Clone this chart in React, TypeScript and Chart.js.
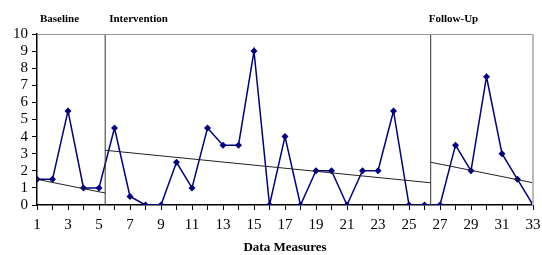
import React, { useEffect, useRef } from "react";
import { Chart, registerables } from "chart.js";

Chart.register(...registerables);

const sessions = Array.from({ length: 33 }, (_, i) => i + 1);
const scores = [1.5, 1.5, 5.5, 1, 1, 4.5, 0.5, 0, 0, 2.5, 1, 4.5, 3.5, 3.5, 9, 0, 4, 0, 2, 2, 0, 2, 2, 5.5, 0, 0, 0, 3.5, 2, 7.5, 3, 1.5, 0];
const phaseChanges = [5.4, 26.4];
const phaseNames = ["Baseline", "Intervention", "Follow-Up"];
const trendX = [[1, 5.4], [5.4, 26.4], [26.4, 33]];
const trendY = [[1.5, 0.7], [3.2, 1.3], [2.5, 1.3]];
const yTicks = [0, 1, 2, 3, 4, 5, 6, 7, 8, 9, 10];

const serif = "'Liberation Serif', 'Times New Roman', serif";

export default function App() {
  const ref = useRef<HTMLCanvasElement>(null);
  useEffect(() => {
    document.body.style.margin = "0";
    const ctx = ref.current!;
    const frame = {
      id: "frame",
      afterDatasetsDraw(chart: any) {
        const { ctx, chartArea: a, scales } = chart;
        ctx.save();
        ctx.strokeStyle = "#999";
        ctx.lineWidth = 1;
        ctx.beginPath();
        ctx.moveTo(a.left, a.top + 0.5);
        ctx.lineTo(a.right, a.top + 0.5);
        ctx.stroke();
        ctx.strokeStyle = "#bbb";
        ctx.lineWidth = 2;
        ctx.beginPath();
        ctx.moveTo(a.right, a.top);
        ctx.lineTo(a.right, a.bottom);
        ctx.stroke();
        ctx.fillStyle = "#000";
        ctx.font = `bold 11px ${serif}`;
        ctx.textBaseline = "middle";
        ctx.textAlign = "left";
        const xs = scales.x;
        const starts = [xs.getPixelForValue(1) + 3, xs.getPixelForValue(phaseChanges[0]) + 4, xs.getPixelForValue(phaseChanges[1]) - 2];
        phaseNames.forEach((n, i) => ctx.fillText(n, starts[i], 19));
        ctx.restore();
      },
    };
    const datasets: any[] = [];
    phaseChanges.forEach((p) => {
      datasets.push({
        data: [{ x: p, y: 0 }, { x: p, y: 10 }],
        borderColor: "#333",
        borderWidth: 1,
        pointRadius: 0,
      });
    });
    trendX.forEach((tx, i) => {
      datasets.push({
        data: [{ x: tx[0], y: trendY[i][0] }, { x: tx[1], y: trendY[i][1] }],
        borderColor: "#222",
        borderWidth: 1,
        pointRadius: 0,
      });
    });
    datasets.push({
      data: sessions.map((s, i) => ({ x: s, y: scores[i] })),
      borderColor: "#000080",
      backgroundColor: "#000080",
      borderWidth: 1.5,
      pointStyle: "rectRot",
      pointRadius: 3.5,
      pointBorderWidth: 0,
    });
    const chart = new Chart(ctx, {
      type: "line",
      data: { datasets },
      options: {
        animation: false,
        responsive: false,
        layout: { padding: { top: 34, left: 0, right: 9, bottom: 0 } },
        plugins: { legend: { display: false }, tooltip: { enabled: false } },
        scales: {
          x: {
            type: "linear",
            min: 1,
            max: 33,
            afterFit: (s: any) => { s.height = 50; s.paddingLeft = 0; s.paddingRight = 0; },
            border: { color: "#000", width: 1.5 },
            grid: { drawOnChartArea: false, drawTicks: true, tickLength: 5, color: "#000" },
            ticks: {
              stepSize: 1,
              autoSkip: false,
              maxRotation: 0,
              color: "#000",
              padding: 6,
              font: { family: serif, size: 15 },
              callback: (v: any) => (Number(v) % 2 === 1 ? String(v) : ""),
            },
            title: {
              display: true,
              text: "Data Measures",
              color: "#000",
              font: { family: serif, size: 13, weight: "bold" },
              padding: { top: 0, bottom: 0 },
            },
          },
          y: {
            min: 0,
            max: 10,
            afterFit: (s: any) => { s.width = 37; s.paddingTop = 0; s.paddingBottom = 0; },
            afterBuildTicks: (s: any) => { s.ticks = yTicks.map((v) => ({ value: v })); },
            border: { color: "#000", width: 1.5 },
            grid: { drawOnChartArea: false, drawTicks: true, tickLength: 5, color: "#000" },
            ticks: { color: "#000", padding: 4, autoSkip: false, font: { family: serif, size: 15 } },
          },
        },
      },
      plugins: [frame],
    });
    return () => chart.destroy();
  }, []);
  return <canvas ref={ref} width={542} height={255} style={{ display: "block" }} />;
}
